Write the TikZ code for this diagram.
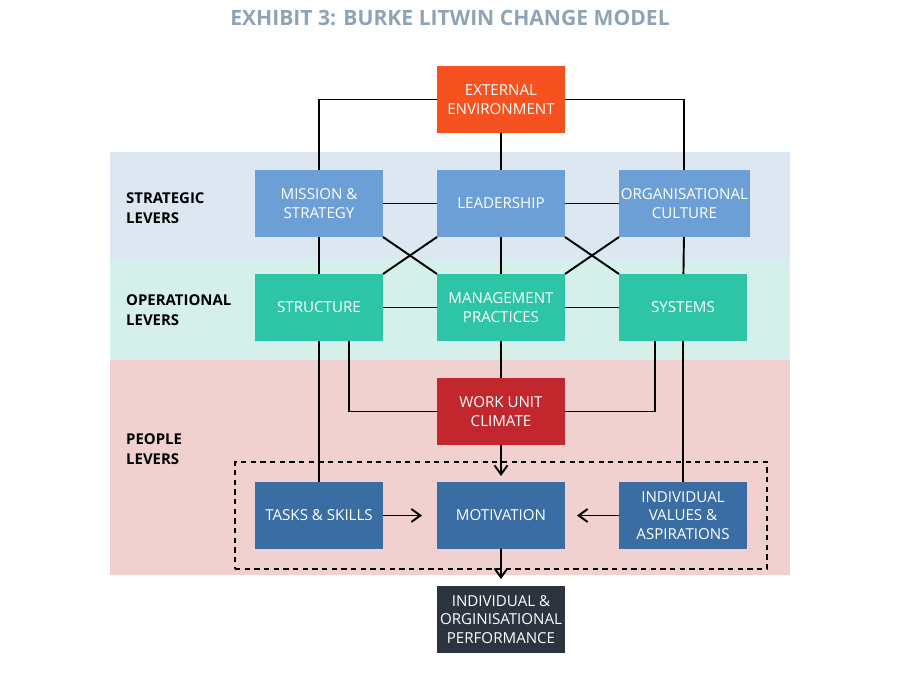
\documentclass[tikz,border=0pt]{standalone}
\usepackage{fontspec}
\setmainfont{Open Sans}
\usetikzlibrary{arrows.meta, positioning, fit}
\definecolor{titlegrey}{HTML}{8FA3B6}
\definecolor{extorange}{HTML}{F5521F}
\definecolor{stratblue}{HTML}{6B9FD6}
\definecolor{opteal}{HTML}{2EC4A6}
\definecolor{climred}{HTML}{C1272D}
\definecolor{peopleblue}{HTML}{3A6DA4}
\definecolor{perfslate}{HTML}{2C353F}
\definecolor{bandblue}{HTML}{DDE7F2}
\definecolor{bandgreen}{HTML}{D5F0EA}
\definecolor{bandred}{HTML}{F1D0D0}

\begin{document}
\begin{tikzpicture}[node distance=0.74cm and 1.08cm, font=\fontsize{8.6}{10.5}\selectfont,
		box/.style={minimum width=2.56cm, minimum height=1.34cm, align=center, text=white, inner sep=1pt, outer sep=0pt},
		lever/.style={anchor=west, align=left, font=\fontsize{8.5}{11.2}\selectfont\bfseries},
		link/.style={line width=1.1pt},
		flow/.style={link, -{Straight Barb[length=1.8mm, width=2.6mm]}}]
	\useasboundingbox (0,0) rectangle (18,-14);
	% lever bands
	\fill[bandblue] (2.2,-3.04) rectangle (15.8,-5.18);
	\fill[bandgreen] (2.2,-5.18) rectangle (15.8,-7.2);
	\fill[bandred] (2.2,-7.2) rectangle (15.8,-11.5);
	\node[font=\fontsize{12}{14}\selectfont\bfseries, text=titlegrey] (title) at (9.0,-0.36) {EXHIBIT 3: BURKE LITWIN CHANGE MODEL};
	\node[lever] (strat) at (2.4,-4.16) {STRATEGIC\\LEVERS};
	\node[lever] (oper) at (2.4,-6.2) {OPERATIONAL\\LEVERS};
	\node[lever] (people) at (2.4,-8.98) {PEOPLE\\LEVERS};
	% boxes
	\node[box, fill=extorange] (ext) at (10.02,-1.99) {EXTERNAL\\ENVIRONMENT};
	\node[box, fill=stratblue, below=of ext] (lea) {LEADERSHIP};
	\node[box, fill=stratblue, left=of lea] (mis) {MISSION \&\\STRATEGY};
	\node[box, fill=stratblue, right=of lea] (cul) {ORGANISATIONAL\\CULTURE};
	\node[box, fill=opteal, below=of lea] (mgt) {MANAGEMENT\\PRACTICES};
	\node[box, fill=opteal, left=of mgt] (str) {STRUCTURE};
	\node[box, fill=opteal, right=of mgt] (sys) {SYSTEMS};
	\node[box, fill=climred, below=of mgt] (wuc) {WORK UNIT\\CLIMATE};
	\node[box, fill=peopleblue, below=of wuc] (mot) {MOTIVATION};
	\node[box, fill=peopleblue, left=of mot] (tsk) {TASKS \& SKILLS};
	\node[box, fill=peopleblue, right=of mot] (ind) {INDIVIDUAL\\VALUES \&\\ASPIRATIONS};
	\node[box, fill=perfslate, below=of mot] (per) {INDIVIDUAL \&\\ORGINISATIONAL\\PERFORMANCE};
	\node[draw, dashed, line width=0.8pt, dash pattern=on 3pt off 2.5pt, fit=(tsk)(mot)(ind), inner sep=0.4cm] (grp) {};
	% links
	\draw[link] (ext.west) -| (mis.north);
	\draw[link] (ext.east) -| (cul.north);
	\foreach \a/\b in {ext/lea, lea/mgt, mgt/wuc, mis/str, str/tsk, cul/sys, sys/ind, mis/lea, lea/cul, str/mgt, mgt/sys}
	\draw[link] (\a) -- (\b);
	\draw[link] (mis.south east) -- (mgt.north west);
	\draw[link] (lea.south west) -- (str.north east);
	\draw[link] (lea.south east) -- (sys.north west);
	\draw[link] (cul.south west) -- (mgt.north east);
	\draw[link] ([xshift=0.6cm]str.south) |- (wuc.west);
	\draw[link] ([xshift=-0.56cm]sys.south) |- (wuc.east);
	\draw[flow, shorten >=0.12cm] (wuc) -- (mot);
	\draw[flow, shorten >=0.14cm] (mot) -- (per);
	\draw[flow, shorten >=0.3cm] (tsk) -- (mot);
	\draw[flow, shorten >=0.24cm] (ind) -- (mot);
\end{tikzpicture}
\end{document}
